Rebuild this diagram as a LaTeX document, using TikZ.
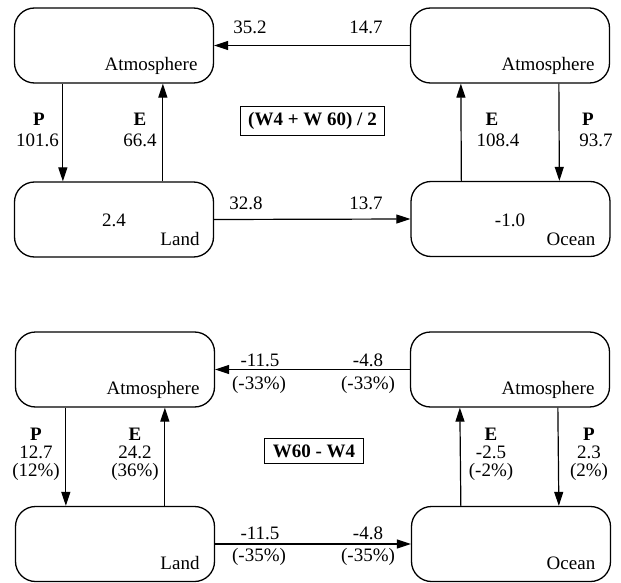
\documentclass[tikz,border=0pt]{standalone}
\usepackage{fontspec}
\setmainfont{Liberation Serif}
\usetikzlibrary{arrows.meta,calc}
\begin{document}
\begin{tikzpicture}[x=1pt,y=-1pt,
  font=\fontsize{19}{19}\selectfont,
  reservoir/.style={draw,line width=1.3pt,rounded corners=20pt,minimum width=199pt,minimum height=75pt,inner sep=0pt},
  caption/.style={draw,line width=1.3pt,font=\fontsize{19}{19}\selectfont\bfseries,inner xsep=8pt,inner ysep=6pt},
  flux/.style={line width=1.2pt,-{Triangle[length=14pt,width=9pt]}},
  plain/.style={inner sep=0pt},
  stack/.style={inner sep=0pt,align=center,font=\fontsize{19}{19}\selectfont}]
\useasboundingbox (0,0) rectangle (621,583);

% ---------- upper panel: mean of the two runs ----------
\node[reservoir] (la) at (114,45.5) {};
\node[reservoir] (ld) at (114,219.5) {};
\node[reservoir] (oa) at (510,45.5) {};
\node[reservoir] (oc) at (510.5,219) {};

\node[plain] at (151,66) {Atmosphere};
\node[plain] at (548,66) {Atmosphere};
\node[plain] at (114,220) {2.4};
\node[plain] at (180,239) {Land};
\node[plain] at (510,220) {-1.0};
\node[plain] at (571,239) {Ocean};

\draw[flux] (oa.west) -- (la.east);
\draw[flux] (ld.east) -- (oc.west);
\draw[flux] ($(la.south west)+(49,0)$) -- ($(ld.north west)+(49,0)$);
\draw[flux] ($(ld.north west)+(149,0)$) -- ($(la.south west)+(149,0)$);
\draw[flux] ($(oc.north west)+(51,0)$) -- ($(oa.south west)+(51,0)$);
\draw[flux] ($(oa.south west)+(149,0)$) -- ($(oc.north west)+(149,0)$);

\node[plain] at (250,27) {35.2};
\node[plain] at (366,27) {14.7};
\node[plain] at (246,203) {32.8};
\node[plain] at (366,203) {13.7};
\node[plain,font=\fontsize{19}{19}\selectfont\bfseries] at (39,119) {P};
\node[plain] at (37.5,140) {101.6};
\node[plain,font=\fontsize{19}{19}\selectfont\bfseries] at (140,119) {E};
\node[plain] at (140,140) {66.4};
\node[plain,font=\fontsize{19}{19}\selectfont\bfseries] at (492,119) {E};
\node[plain] at (498,140) {108.4};
\node[plain,font=\fontsize{19}{19}\selectfont\bfseries] at (588,119) {P};
\node[plain] at (596,140) {93.7};

\node[caption] (t1) at (312.5,121) {(W4 + W 60) / 2};

% ---------- lower panel: difference of the two runs ----------
\node[reservoir] (la2) at (115,369.5) {};
\node[reservoir] (ld2) at (115,544) {};
\node[reservoir] (oa2) at (510,369.5) {};
\node[reservoir] (oc2) at (511,544) {};

\node[plain] at (153,390) {Atmosphere};
\node[plain] at (548,390) {Atmosphere};
\node[plain] at (180,563) {Land};
\node[plain] at (571,563) {Ocean};

\draw[flux] (oa2.west) -- (la2.east);
\draw[flux] (ld2.east) -- (oc2.west);
\draw[flux] ($(la2.south west)+(51,0)$) -- ($(ld2.north west)+(51,0)$);
\draw[flux] ($(ld2.north west)+(150,0)$) -- ($(la2.south west)+(150,0)$);
\draw[flux] ($(oc2.north west)+(50,0)$) -- ($(oa2.south west)+(50,0)$);
\draw[flux] ($(oa2.south west)+(148,0)$) -- ($(oc2.north west)+(148,0)$);

\node[plain] at (260,360) {-11.5};
\node[plain] at (259,385) {(-33\%)};
\node[plain] at (368,360) {-4.8};
\node[plain] at (368,385) {(-33\%)};
\node[plain] at (260,533) {-11.5};
\node[plain] at (259,557) {(-35\%)};
\node[plain] at (368,533) {-4.8};
\node[plain] at (368,557) {(-35\%)};

\node[stack] at (36,454) {\textbf{P}\\[-1pt]12.7\\[-1pt](12\%)};
\node[stack] at (135,454) {\textbf{E}\\[-1pt]24.2\\[-1pt](36\%)};
\node[stack] at (491,454) {\textbf{E}\\[-1pt]-2.5\\[-1pt](-2\%)};
\node[stack] at (589,454) {\textbf{P}\\[-1pt]2.3\\[-1pt](2\%)};

\node[caption] (t2) at (314,451) {W60 - W4};
\end{tikzpicture}
\end{document}
